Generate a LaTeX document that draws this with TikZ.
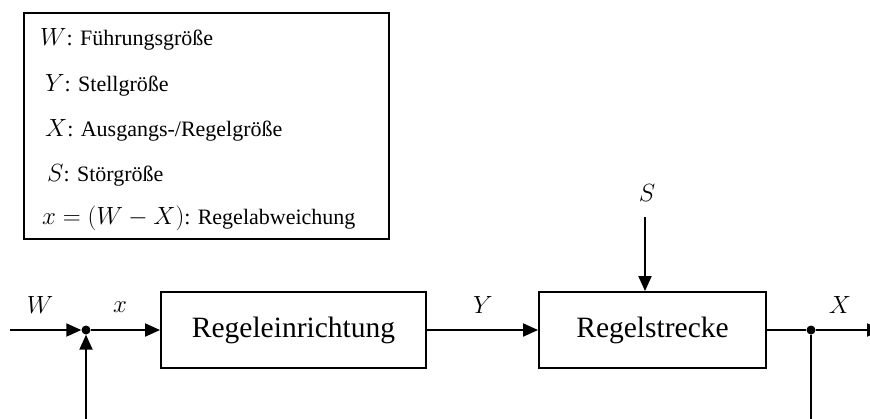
\documentclass[tikz,border=0pt]{standalone}
\usepackage{fontspec}
\setmainfont{Liberation Serif}
\usetikzlibrary{arrows.meta}
\newcommand\lgm[1]{{\fontsize{25}{30}\selectfont$#1$}}
\tikzset{
  blockbox/.style={draw, line width=1.9pt, minimum height=76pt, inner sep=0pt, font=\fontsize{29.5}{34}\selectfont},
  sig/.style={line width=1.9pt, -{Triangle[length=15pt,width=13pt]}},
  wire/.style={line width=1.9pt},
  jdot/.style={circle, fill=black, inner sep=0pt, minimum size=9pt},
  lbl/.style={font=\fontsize{27}{32}\selectfont, inner sep=0pt},
  legtxt/.style={anchor=base west, inner sep=0pt, font=\fontsize{22}{26}\selectfont},
  legbox/.style={draw, line width=1.8pt, inner sep=0pt}
}
\begin{document}
\begin{tikzpicture}[x=1pt,y=-1pt]
\useasboundingbox (0,0) rectangle (870,418);
\clip (0,0) rectangle (870,418);
% legend
\node[legbox, minimum width=365pt, minimum height=226pt] (leg) at (206.5,126) {};
\node[legtxt] (l1) at (40,45) {\lgm{W}: Führungsgröße};
\node[legtxt] (l2) at (45,91) {\lgm{Y}: Stellgröße};
\node[legtxt] (l3) at (45,136) {\lgm{X}: Ausgangs-/Regelgröße};
\node[legtxt] (l4) at (47,181) {\lgm{S}: Störgröße};
\node[legtxt] (l5) at (42,224) {\lgm{x=(W-X)}: Regelabweichung};
% blocks
\node[blockbox, minimum width=265pt] (re) at (293.5,330) {Regeleinrichtung};
\node[blockbox, minimum width=227pt] (rs) at (652.5,330) {Regelstrecke};
\node[jdot] (j1) at (86,330) {};
\node[jdot] (j2) at (811,330) {};
\coordinate (win) at (10,330);
\coordinate (xout) at (882,330);
\coordinate (fbl) at (86,430);
\coordinate (fbr) at (811,430);
\coordinate (sin) at (645,217);
% labels
\node[lbl] (lw) at (40,305) {$W$};
\node[lbl] (lx) at (120,307) {$x$};
\node[lbl] (ly) at (483,305) {$Y$};
\node[lbl] (lX) at (840,305) {$X$};
\node[lbl] (ls) at (647,193) {$S$};
% connectors
\draw[sig] (win) -- (j1);
\draw[sig] (fbl) -- (j1);
\draw[sig] (j1) -- (re.west);
\draw[sig] (re.east) -- (rs.west);
\draw[sig] (sin) -- (sin |- rs.north);
\draw[wire] (rs.east) -- (j2);
\draw[sig] (j2) -- (xout);
\draw[wire] (j2) -- (fbr);
\end{tikzpicture}
\end{document}
